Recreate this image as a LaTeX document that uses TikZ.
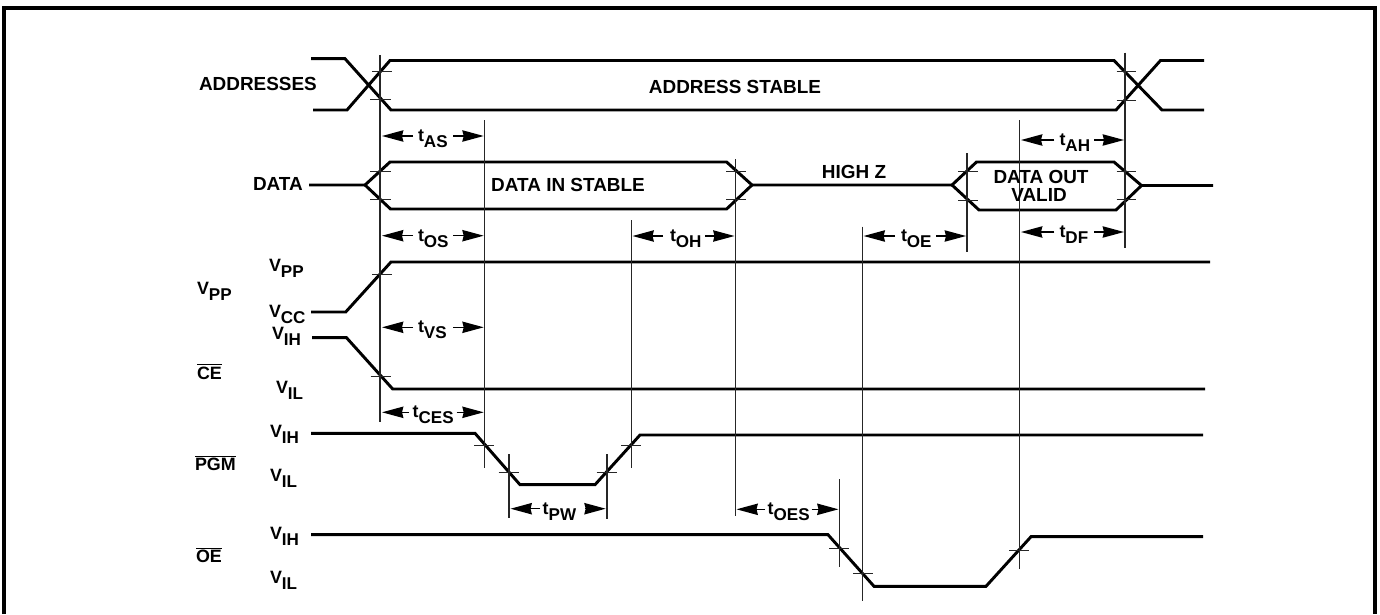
\documentclass[tikz,border=0pt]{standalone}
\usepackage{fontspec}
\setmainfont{Liberation Sans}[BoldFont={Liberation Sans Bold}]
\usetikzlibrary{arrows.meta}
\newcommand{\sbs}[1]{\raisebox{-4.5pt}{\fontsize{12.8pt}{13pt}\selectfont #1}}
\newcommand{\ovl}[1]{$\overline{\mbox{#1}}$}
\tikzset{
  x=0.75pt,y=-0.75pt,
  sig/.style={line width=2.2pt,line join=miter,line cap=butt},
  frm/.style={line width=3.4pt},
  vline/.style={line width=0.95pt,black!85},
  tick/.style={line width=0.75pt,black!85},
  dimline/.style={line width=1.1pt,-{Stealth[length=16pt,width=8.5pt,inset=1pt]}},
  lbl/.style={inner sep=0pt,outer sep=0pt,font=\fontsize{13.4pt}{14pt}\selectfont\bfseries},
  wrd/.style={inner sep=0pt,outer sep=0pt,font=\fontsize{14.2pt}{15pt}\selectfont\bfseries},
  lbb/.style={lbl,anchor=base west},
  wdb/.style={wrd,anchor=base west},
  lbc/.style={wrd,anchor=center,align=center}
}
% name, left tip, left stem, text x, right stem, right tip, y, sub
\newcommand{\tdim}[8]{%
  \node[lbb] (#1) at (#4,#7+5.5) {t\sbs{#8}};
  \coordinate (#1-la) at (#2,#7);
  \coordinate (#1-ls) at (#3,#7);
  \coordinate (#1-rs) at (#5,#7);
  \coordinate (#1-ra) at (#6,#7);
  \draw[dimline] (#1-ls) -- (#1-la);
  \draw[dimline] (#1-rs) -- (#1-ra);
}
% tick: y, x1, x2
\newcommand{\tk}[3]{\draw[tick] (#2,#1) -- (#3,#1);}
% vertical: x, y1, y2
\newcommand{\vl}[3]{\draw[vline] (#1,#2) -- (#1,#3);}
\begin{document}
\begin{tikzpicture}
\useasboundingbox (0,0) rectangle (1380,614);
\fill[white] (0,0) rectangle (1380,614);
% frame
\draw[frm] (4,614) -- (4,8) -- (1375,8) -- (1375,614);
% addresses
\draw[sig] (311,58.7) -- (345,58.7) -- (391,110) -- (1116,110) -- (1160.5,60.5) -- (1204,60.5);
\draw[sig] (313,110) -- (347,110) -- (390,60.5) -- (1114,60.5) -- (1162,110) -- (1204,110);
% data
\draw[sig] (309,185) -- (365,185) -- (390,162) -- (726.6,162) -- (752,185) -- (952,185) -- (976.5,162) -- (1114,162) -- (1141.5,185.5) -- (1213,185.5);
\draw[sig] (365,185) -- (390.5,209) -- (726.6,209) -- (752,185);
\draw[sig] (952,185) -- (979,210) -- (1116,210) -- (1141.5,185.5);
% vpp
\draw[sig] (311,312) -- (345.7,312) -- (391,262) -- (1210,262);
% ce
\draw[sig] (312,337.7) -- (346.5,337.7) -- (392.7,389) -- (1205,389);
% pgm
\draw[sig] (311,433.3) -- (475,433.3) -- (520,484.7) -- (595,484.7) -- (640,435) -- (1203,435);
% oe
\draw[sig] (311,534.7) -- (828,534.7) -- (874,586.3) -- (986,586.3) -- (1031,536.7) -- (1203,536.7);
% verticals
\vl{380}{55}{421.7}
\vl{484.7}{120}{468}
\vl{631.5}{220}{468}
\vl{735.5}{159}{516}
\vl{839.7}{479}{566.7}
\vl{862.3}{226.7}{600.7}
\vl{967}{153}{252}
\vl{1019.7}{120}{569}
\vl{1125}{52.7}{248}
\vl{509}{454}{518}
\vl{607}{454}{519}
% ticks
\tk{71.7}{372}{392}\tk{99}{370}{391}
\tk{71}{1116.5}{1136}\tk{100}{1116.5}{1136}
\tk{171}{370}{391}\tk{199}{370}{391}
\tk{171}{726}{746}\tk{199}{726}{746}
\tk{171}{958}{978}\tk{200}{958}{978}
\tk{171}{1116.5}{1136}\tk{199}{1116.5}{1136}
\tk{274}{372}{392}
\tk{376.7}{370.7}{391}
\tk{445}{474}{494}\tk{472}{498.7}{518.7}\tk{472}{596.7}{616.7}\tk{445}{621}{641}
\tk{548}{829}{849}\tk{573.7}{853}{873}\tk{550}{1009}{1029}
% dimensions
\tdim{tAS}{382}{413}{418}{453}{483.7}{136}{AS}
\tdim{tOS}{382}{413}{418}{453}{483.7}{235.7}{OS}
\tdim{tVS}{382}{413}{418}{453}{483.7}{327.3}{VS}
\tdim{tCES}{382}{409}{412.7}{456.7}{483.7}{412.3}{CES}
\tdim{tPW}{510.5}{540}{542.7}{585}{605.7}{508.7}{PW}
\tdim{tOES}{736.5}{765}{767.7}{811.7}{838.5}{509.3}{OES}
\tdim{tAH}{1021}{1054.4}{1059.5}{1094}{1124}{140}{AH}
\tdim{tDF}{1021}{1054.4}{1059.5}{1094}{1124}{232}{DF}
\tdim{tOE}{863.6}{895}{901}{936}{966}{236}{OE}
\tdim{tOH}{632.5}{663}{670}{705}{734.5}{236}{OH}
% labels
\node[wdb] (addr) at (199,90.5) {ADDRESSES};
\node[lbc] (stable) at (735,87) {ADDRESS STABLE};
\node[wdb] (data) at (253,190.5) {DATA};
\node[lbc] (datain) at (568,185) {DATA IN STABLE};
\node[lbc] (highz) at (854,172) {HIGH Z};
\node[lbc] (dataout) at (1041,177) {DATA OUT};
\node[lbc] (valid) at (1039,195) {VALID};
\node[lbb] (vpp1) at (269,271) {V\sbs{PP}};
\node[lbb] (vpp2) at (197,294) {V\sbs{PP}};
\node[lbb] (vcc) at (269,317) {V\sbs{CC}};
\node[lbb] (vih1) at (272,339) {V\sbs{IH}};
\node[lbb] (ce) at (197,379) {\ovl{CE}};
\node[lbb] (vil1) at (276,393) {V\sbs{IL}};
\node[lbb] (vih2) at (270,437) {V\sbs{IH}};
\node[lbb] (pgm) at (195,470.7) {\ovl{PGM}};
\node[lbb] (vil2) at (270,481.7) {V\sbs{IL}};
\node[lbb] (vih3) at (270,539) {V\sbs{IH}};
\node[lbb] (oe) at (196,562.7) {\ovl{OE}};
\node[lbb] (vil3) at (270,583) {V\sbs{IL}};
\end{tikzpicture}
\end{document}
